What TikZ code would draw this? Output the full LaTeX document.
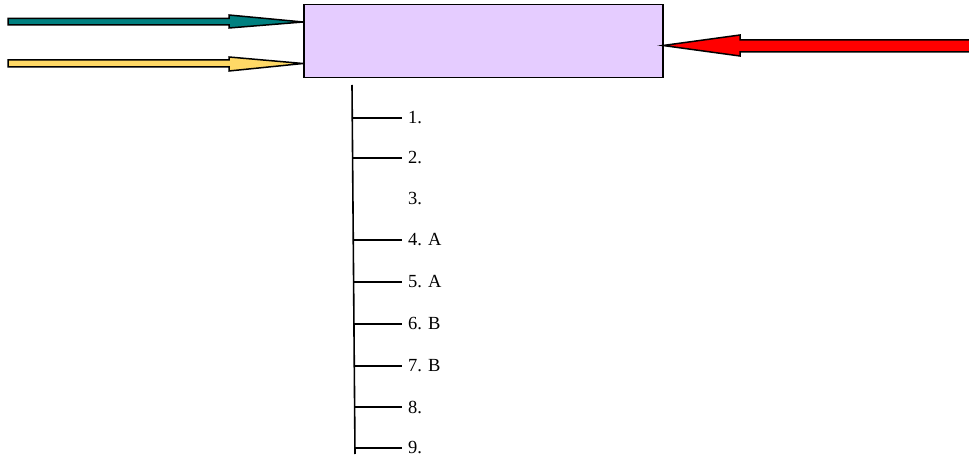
\documentclass[tikz,border=0pt]{standalone}
\usepackage{fontspec}
\setmainfont{Liberation Serif}
\definecolor{boxfill}{HTML}{E5CCFF}
\definecolor{tealc}{HTML}{008080}
\definecolor{yellowc}{HTML}{FFD966}
\definecolor{redc}{HTML}{FF0000}
\begin{document}
\begin{tikzpicture}[x=1pt,y=-1pt,
  arrowshape/.style={draw=black,line width=1.5pt,line join=miter},
  tick/.style={draw=black,line width=1.6pt},
  lbl/.style={anchor=west,inner sep=0pt,font=\fontsize{18.5}{20}\selectfont}]
\useasboundingbox (0,0) rectangle (969,462);
% main box
\node[draw=black,line width=1.5pt,fill=boxfill,minimum width=359pt,minimum height=73pt,inner sep=0pt,anchor=north west] (box) at (303,4) {};
% teal arrow
\coordinate (tealtip) at (303,22);
\fill[tealc,arrowshape] (8,18.5) -- (229,18.5) -- (229,15) -- (tealtip) -- (229,28) -- (229,25) -- (8,25) -- cycle;
% yellow arrow
\coordinate (yeltip) at (303,63.5);
\fill[yellowc,arrowshape] (8,60) -- (229,60) -- (229,57) -- (yeltip) -- (229,71) -- (229,67) -- (8,67) -- cycle;
% red arrow
\coordinate (redtip) at (663,45.5);
\fill[redc,arrowshape] (971,40) -- (740,40) -- (740,35) -- (redtip) -- (740,56) -- (740,52) -- (971,52) -- cycle;
% vertical line
\coordinate (vtop) at (352,85);
\coordinate (vbot) at (355,454);
\draw[tick] (vtop) -- (vbot);
% labels and ticks
\node[lbl] (la) at (408,118) {1.};
\node[lbl] (lb) at (408,158) {2.};
\node[lbl] (lc) at (408,199) {3.};
\node[lbl] (ld) at (408,240) {4. A};
\node[lbl] (le) at (408,282) {5. A};
\node[lbl] (lf) at (408,324) {6. B};
\node[lbl] (lg) at (408,366) {7. B};
\node[lbl] (lh) at (408,407) {8.};
\node[lbl] (li) at (408,448) {9.};
\foreach \y/\n in {118/a,158/b,240/d,282/e,324/f,366/g,407/h,448/i}{
  \coordinate (t\n) at ({352+3*(\y-85)/369},\y);
  \draw[tick] (t\n) -- (l\n.west -| 402,0);
}
\end{tikzpicture}
\end{document}
